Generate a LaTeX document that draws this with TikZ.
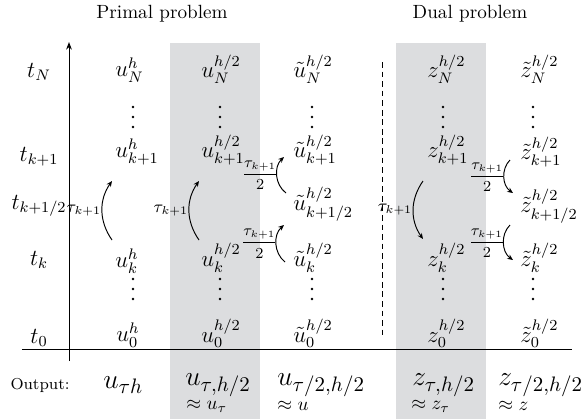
\documentclass[tikz,border=0pt]{standalone}
\usetikzlibrary{arrows.meta}
\definecolor{bandgray}{RGB}{220,221,223}
\newcommand{\halfstepfrac}{$\nulldelimiterspace=0pt\displaystyle\frac{\tau_{k+1}}{2}$}
\begin{document}
\begin{tikzpicture}[x=0.523pt,y=-0.523pt,
  ent/.style={inner sep=0pt,anchor=west,font=\large},
  tlab/.style={inner sep=0pt,font=\large},
  steparrow/.style={-{Stealth[length=3pt,width=2.6pt]},line width=0.5pt},
  smalllab/.style={inner sep=0.3pt,font=\fontsize{9}{10}\selectfont},
  fraclab/.style={inner sep=0.2pt,font=\fontsize{7.6}{9}\selectfont},
  outlab/.style={inner sep=0pt,anchor=west,font=\fontsize{15.5}{18}\selectfont},
  approxlab/.style={inner sep=0pt,anchor=west,font=\normalsize},
  dotmark/.style={fill=black}]
\useasboundingbox (0,0) rectangle (582,419);
\fill[bandgray] (170,43) rectangle (260,419);
\fill[bandgray] (396,43) rectangle (486,419);
% headers
\node[inner sep=0pt] (hp) at (162,14) {Primal problem};
\node[inner sep=0pt] (hd) at (470,14) {Dual problem};
% axes
\coordinate (ab) at (69,361);
\coordinate (at) at (69,42);
\coordinate (hl) at (22,349);
\coordinate (hr) at (572,349);
\draw[-{Stealth[length=4pt,width=3pt]},line width=0.5pt] (ab) -- (at);
\draw[line width=0.5pt] (hl) -- (hr);
\coordinate (dt) at (382,62);
\coordinate (db) at (382,335);
\draw[dashed,dash pattern=on 3pt off 2pt,line width=0.5pt] (dt) -- (db);
% time labels
\node[tlab] (tN) at (39,72) {$t_N$};
\node[tlab] (tk1) at (39,157) {$t_{k+1}$};
\node[tlab] (tkh) at (39,206) {$t_{k+1/2}$};
\node[tlab] (tk) at (39,260) {$t_k$};
\node[tlab] (t0) at (39,338) {$t_0$};
% vertical dots
\foreach \cx in {133,220,312,443,533}{
  \foreach \cy in {107,117,127,279,289,299}{
    \fill[dotmark] (\cx,\cy) circle[radius=0.75pt];
  }
}
% column u^h
\node[ent] (aN) at (115,70) {$u_N^h$};
\node[ent] (ak1) at (115,152) {$u_{k+1}^h$};
\node[ent] (ak) at (115,261) {$u_k^h$};
\node[ent] (a0) at (116,335) {$u_0^h$};
% column u^{h/2}
\node[ent] (bN) at (201,69) {$u_N^{h/2}$};
\node[ent] (bk1) at (201,150) {$u_{k+1}^{h/2}$};
\node[ent] (bk) at (201,258) {$u_k^{h/2}$};
\node[ent] (b0) at (201,333) {$u_0^{h/2}$};
% column tilde u
\node[ent] (cN) at (293,69) {$\tilde u_N^{h/2}$};
\node[ent] (ck1) at (293,150) {$\tilde u_{k+1}^{h/2}$};
\node[ent] (ckh) at (293,204) {$\tilde u_{k+1/2}^{h/2}$};
\node[ent] (ck) at (293,258) {$\tilde u_k^{h/2}$};
\node[ent] (c0) at (293,333) {$\tilde u_0^{h/2}$};
% column z
\node[ent] (dN) at (427,69) {$z_N^{h/2}$};
\node[ent] (dk1) at (427,150) {$z_{k+1}^{h/2}$};
\node[ent] (dk) at (427,258) {$z_k^{h/2}$};
\node[ent] (d0) at (427,333) {$z_0^{h/2}$};
% column tilde z
\node[ent] (eN) at (520,69) {$\tilde z_N^{h/2}$};
\node[ent] (ek1) at (520,152) {$\tilde z_{k+1}^{h/2}$};
\node[ent] (ekh) at (520,206) {$\tilde z_{k+1/2}^{h/2}$};
\node[ent] (ek) at (520,258) {$\tilde z_k^{h/2}$};
\node[ent] (e0) at (520,333) {$\tilde z_0^{h/2}$};
% arrows primal
\coordinate (p1s) at (112,240); \coordinate (p1e) at (112,181);
\draw[steparrow] (p1s) to[bend left=35] node[smalllab,left] (l1) {$\tau_{k+1}$} (p1e);
\coordinate (p2s) at (199,240); \coordinate (p2e) at (199,181);
\draw[steparrow] (p2s) to[bend left=35] node[smalllab,left] (l2) {$\tau_{k+1}$} (p2e);
\coordinate (p3s) at (286,193); \coordinate (p3e) at (284,157);
\draw[steparrow] (p3s) to[bend left=50] node[fraclab,left] (l3) {\halfstepfrac} (p3e);
\coordinate (p4s) at (285,262); \coordinate (p4e) at (284,225);
\draw[steparrow] (p4s) to[bend left=50] node[fraclab,left] (l4) {\halfstepfrac} (p4e);
% arrows dual
\coordinate (q1s) at (423,181); \coordinate (q1e) at (423,239);
\draw[steparrow] (q1s) to[bend right=35] node[smalllab,left] (m1) {$\tau_{k+1}$} (q1e);
\coordinate (q2s) at (510,160); \coordinate (q2e) at (513,193);
\draw[steparrow] (q2s) to[bend right=50] node[fraclab,left] (m2) {\halfstepfrac} (q2e);
\coordinate (q3s) at (510,225); \coordinate (q3e) at (513,260);
\draw[steparrow] (q3s) to[bend right=50] node[fraclab,left] (m3) {\halfstepfrac} (q3e);
% output row
\node[inner sep=0pt,font=\fontsize{8.3}{10}\selectfont] (out) at (40,385) {Output:};
\node[outlab] (o1) at (103,385) {$u_{\tau h}$};
\node[outlab] (o2) at (185,385) {$u_{\tau,h/2}$};
\node[approxlab] (x2) at (186,406) {$\approx u_\tau$};
\node[outlab] (o3) at (277,385) {$u_{\tau/2,h/2}$};
\node[approxlab] (x3) at (277,406) {$\approx u$};
\node[outlab] (o4) at (412,385) {$z_{\tau,h/2}$};
\node[approxlab] (x4) at (411,406) {$\approx z_\tau$};
\node[outlab] (o5) at (498,385) {$z_{\tau/2,h/2}$};
\node[approxlab] (x5) at (498,406) {$\approx z$};
\end{tikzpicture}
\end{document}
